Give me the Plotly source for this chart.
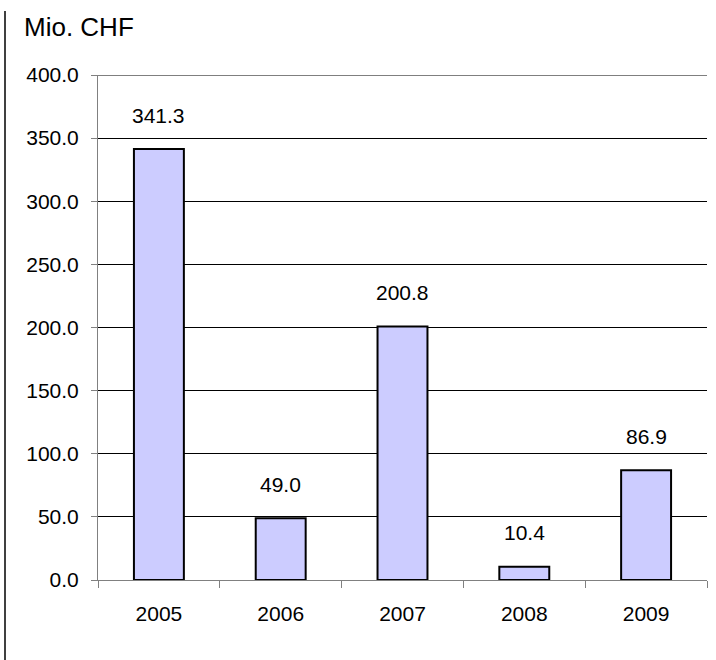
import plotly.graph_objects as go

years = ["2005", "2006", "2007", "2008", "2009"]
values = [341.3, 49.0, 200.8, 10.4, 86.9]
value_labels = ["341.3", "49.0", "200.8", "10.4", "86.9"]
y_ticks = [0, 50, 100, 150, 200, 250, 300, 350, 400]
unit_label = "Mio. CHF"

FONT = "Liberation Sans, Arial, sans-serif"

fig = go.Figure()
fig.add_trace(go.Bar(
    x=years, y=values, width=0.41,
    marker=dict(color="#ccccff", line=dict(color="black", width=2)),
    hoverinfo="skip",
))

for i, (v, lab) in enumerate(zip(values, value_labels)):
    fig.add_annotation(x=i, y=v, text=lab, showarrow=False, yshift=34,
                       font=dict(family=FONT, size=21, color="black"))

L, R, T, B = 98, 9, 75, 80
W, H = 716, 660
pw, ph = W - L - R, H - T - B

fig.add_annotation(xref="paper", yref="paper", x=(22 - L) / pw, y=(H - B - 27) / ph,
                   xanchor="left", yanchor="middle", text=unit_label, showarrow=False,
                   font=dict(family=FONT, size=26, color="black"))

fig.add_shape(type="line", xref="paper", yref="paper",
              x0=(5 - L) / pw, x1=(5 - L) / pw,
              y0=(H - B - 660) / ph, y1=(H - B - 11) / ph,
              line=dict(color="#404040", width=2))

# top gridline at the range edge (plotly omits grid at the edge)
fig.add_shape(type="line", xref="paper", yref="y", x0=0, x1=1,
              y0=y_ticks[-1], y1=y_ticks[-1], line=dict(color="black", width=1))

fig.update_layout(
    width=W, height=H,
    margin=dict(l=L, r=R, t=T, b=B, pad=0, autoexpand=False),
    paper_bgcolor="white", plot_bgcolor="white",
    showlegend=False,
    font=dict(family=FONT, size=21, color="black"),
    xaxis=dict(type="category", range=[-0.5, 4.5], tickson="boundaries", ticks="outside",
               ticklen=7, tickcolor="#808080", showline=True, linecolor="#808080",
               linewidth=1, showgrid=False, tickfont=dict(size=21), tickangle=0,
               ticklabelstandoff=15, automargin=False),
    yaxis=dict(range=[0, 400], tickvals=y_ticks, tickformat=".1f", ticks="outside",
               ticklen=6, tickcolor="#808080", showline=True, linecolor="#808080",
               linewidth=1, showgrid=True, gridcolor="black", gridwidth=1,
               zeroline=False, tickfont=dict(size=21), ticklabelstandoff=8,
               automargin=False),
)

fig.write_html("out.html", config={"displayModeBar": False},
               post_script="document.body.style.margin='0';")
